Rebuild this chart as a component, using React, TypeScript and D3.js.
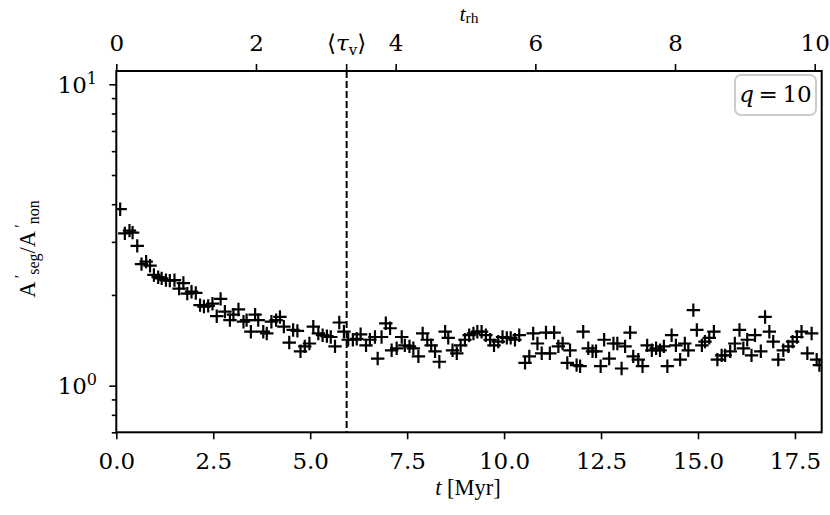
import React, { useRef, useEffect } from 'react';
import * as d3 from 'd3';

// time in Myr and segregated / non-segregated ratio
const tMyr = [
  0.1, 0.22, 0.34, 0.42, 0.54, 0.65, 0.77, 0.87, 0.97, 1.08, 1.17, 1.28, 1.38, 1.5, 1.62, 1.73, 1.83, 1.94,
  2.05, 2.16, 2.26, 2.37, 2.48, 2.59, 2.69, 2.8, 2.93, 3.02, 3.15, 3.28, 3.36, 3.47, 3.58, 3.66, 3.79, 3.88,
  4.0, 4.12, 4.22, 4.32, 4.46, 4.56, 4.67, 4.75, 4.86, 4.98, 5.08, 5.21, 5.32, 5.43, 5.53, 5.64, 5.75, 5.87,
  5.98, 6.1, 6.2, 6.3, 6.44, 6.54, 6.67, 6.74, 6.84, 6.95, 7.06, 7.1, 7.23, 7.36, 7.44, 7.56, 7.66, 7.79,
  7.9, 8.02, 8.12, 8.22, 8.33, 8.48, 8.56, 8.67, 8.78, 8.88, 8.99, 9.1, 9.21, 9.31, 9.42, 9.53, 9.64, 9.74,
  9.85, 9.96, 10.07, 10.17, 10.28, 10.39, 10.54, 10.65, 10.75, 10.86, 10.97, 11.08, 11.18, 11.29, 11.4,
  11.51, 11.63, 11.7, 11.87, 11.96, 12.04, 12.17, 12.28, 12.37, 12.49, 12.58, 12.71, 12.82, 12.92, 13.03,
  13.12, 13.25, 13.33, 13.46, 13.57, 13.69, 13.81, 13.92, 14.02, 14.12, 14.21, 14.32, 14.43, 14.54, 14.66,
  14.75, 14.88, 14.97, 15.1, 15.18, 15.29, 15.41, 15.5, 15.61, 15.7, 15.83, 15.95, 16.07, 16.17, 16.27,
  16.38, 16.47, 16.62, 16.73, 16.84, 16.94, 17.07, 17.2, 17.33, 17.44, 17.55, 17.67, 17.82, 17.93, 18.06,
  18.13,
];
const ratio = [
  3.85, 3.2, 3.27, 3.22, 2.91, 2.53, 2.58, 2.5, 2.33, 2.29, 2.27, 2.24, 2.23, 2.24, 2.1, 2.19, 2.02, 2.05,
  2.03, 1.85, 1.83, 1.84, 1.87, 1.7, 1.94, 1.76, 1.65, 1.72, 1.79, 1.63, 1.65, 1.51, 1.72, 1.65, 1.51, 1.49,
  1.63, 1.65, 1.69, 1.57, 1.39, 1.53, 1.52, 1.3, 1.35, 1.38, 1.57, 1.49, 1.47, 1.46, 1.45, 1.35, 1.62, 1.51,
  1.42, 1.42, 1.43, 1.48, 1.36, 1.42, 1.45, 1.23, 1.45, 1.61, 1.55, 1.31, 1.33, 1.45, 1.36, 1.35, 1.33, 1.25,
  1.49, 1.42, 1.36, 1.3, 1.2, 1.51, 1.44, 1.31, 1.28, 1.36, 1.42, 1.47, 1.49, 1.51, 1.51, 1.47, 1.42, 1.36,
  1.4, 1.45, 1.44, 1.44, 1.42, 1.47, 1.19, 1.25, 1.49, 1.38, 1.28, 1.5, 1.28, 1.5, 1.35,
  1.38, 1.19, 1.31, 1.17, 1.16, 1.51, 1.33, 1.3, 1.3, 1.16, 1.42, 1.23, 1.38, 1.38, 1.14,
  1.35, 1.5, 1.25, 1.22, 1.16, 1.36, 1.31, 1.33, 1.31, 1.35, 1.16, 1.47, 1.36, 1.22, 1.38,
  1.31, 1.78, 1.53, 1.36, 1.4, 1.44, 1.51, 1.22, 1.26, 1.26, 1.3, 1.38, 1.53, 1.33, 1.42,
  1.26, 1.47, 1.3, 1.69, 1.51, 1.4, 1.22, 1.31, 1.35, 1.4, 1.45, 1.51, 1.28, 1.49, 1.22,
  1.17,
];

const bottomTicks = [0, 2.5, 5, 7.5, 10, 12.5, 15, 17.5];
const topTicks = [0, 2, 4, 6, 8, 10];
const yMajorTicks = [1, 10];
const yMinorTicks = [0.7, 0.8, 0.9, 2, 3, 4, 5, 6, 7, 8, 9];
const tauV = 5.94; // Myr, mean <tau_v>
const qValue = '10';

const W = 830;
const H = 515;
const font = '"DejaVu Serif", serif';
const labelFont = '"Liberation Serif", "Times New Roman", serif';

const App: React.FC = () => {
  const svgRef = useRef<SVGSVGElement | null>(null);

  useEffect(() => {
    document.body.style.margin = '0';
    if (!svgRef.current) return;
    const svg = d3.select(svgRef.current);
    svg.selectAll('*').remove();

    const left = 116.3, right = 821.7, top = 71, bottom = 432.3;

    const x = d3.scaleLinear().domain([0, 18.19]).range([left, right]);
    const xTop = d3.scaleLinear().domain([0, 10.1]).range([left, right]);
    const y = d3.scaleLog().domain([0.7, 11.07]).range([bottom, top]);

    svg.append('rect').attr('width', W).attr('height', H).attr('fill', '#fff');

    svg.append('clipPath').attr('id', 'plotclip')
      .append('rect')
      .attr('x', left).attr('y', top)
      .attr('width', right - left).attr('height', bottom - top);

    // bottom axis
    const gx = svg.append('g')
      .attr('transform', `translate(0,${bottom})`)
      .call(d3.axisBottom(x).tickValues(bottomTicks).tickSize(7).tickPadding(13)
        .tickFormat(d3.format('.1f') as any));
    // top axis (t_rh)
    const gxt = svg.append('g')
      .attr('transform', `translate(0,${top})`)
      .call(d3.axisTop(xTop).tickValues(topTicks).tickSize(7).tickPadding(13)
        .tickFormat(d3.format('d') as any));
    // y axis
    const gyMinor = svg.append('g')
      .attr('transform', `translate(${left},0)`)
      .call(d3.axisLeft(y).tickValues(yMinorTicks).tickSize(4.5).tickFormat(() => ''));
    const gy = svg.append('g')
      .attr('transform', `translate(${left},0)`)
      .call(d3.axisLeft(y).tickValues(yMajorTicks).tickSize(7).tickFormat(() => ''));

    [gx, gxt, gy, gyMinor].forEach(g => {
      g.select('.domain').remove();
      g.selectAll('line').attr('stroke', '#000').attr('stroke-width', 1.6);
      g.selectAll('text').attr('font-family', font).attr('font-size', 23).attr('fill', '#000');
    });

    // y tick labels 10^0, 10^1
    yMajorTicks.forEach(v => {
      const t = svg.append('text')
        .attr('x', 97).attr('y', y(v) + 8.5)
        .attr('text-anchor', 'end')
        .attr('font-family', font).attr('font-size', 23).attr('fill', '#000');
      t.append('tspan').text('10');
      t.append('tspan').attr('font-size', 16).attr('dy', -9).text(String(Math.round(Math.log10(v))));
    });

    // tau_v tick + label on top
    svg.append('line')
      .attr('x1', x(tauV)).attr('x2', x(tauV))
      .attr('y1', top).attr('y2', top - 7)
      .attr('stroke', '#000').attr('stroke-width', 1.6);
    const tl = svg.append('text')
      .attr('x', x(tauV)).attr('y', 51)
      .attr('text-anchor', 'middle')
      .attr('font-family', font).attr('font-size', 23).attr('fill', '#000');
    tl.append('tspan').text('\u27E8');
    tl.append('tspan').attr('font-style', 'italic').text('\u03C4');
    tl.append('tspan').attr('font-size', 15).attr('dy', 4).text('v');
    tl.append('tspan').attr('dy', -4).text('\u27E9');

    // dashed line at <tau_v>
    svg.append('line')
      .attr('x1', x(tauV)).attr('x2', x(tauV))
      .attr('y1', top).attr('y2', bottom)
      .attr('stroke', '#000').attr('stroke-width', 2)
      .attr('stroke-dasharray', '7,3');

    // data markers '+'
    const pts = tMyr.map((t, i) => ({ t, r: ratio[i] }));
    const half = 6.7;
    svg.append('g')
      .attr('clip-path', 'url(#plotclip)')
      .selectAll('path')
      .data(pts)
      .enter()
      .append('path')
      .attr('d', d => {
        const px = x(d.t), py = y(d.r);
        return `M${px - half},${py}H${px + half}M${px},${py - half}V${py + half}`;
      })
      .attr('stroke', '#000')
      .attr('stroke-width', 2.2)
      .attr('fill', 'none');

    // frame
    svg.append('rect')
      .attr('x', left).attr('y', top)
      .attr('width', right - left).attr('height', bottom - top)
      .attr('fill', 'none').attr('stroke', '#000').attr('stroke-width', 2);

    // legend box q = 10
    svg.append('rect')
      .attr('x', 735).attr('y', 75).attr('width', 81).attr('height', 40).attr('rx', 6)
      .attr('fill', '#fff').attr('stroke', '#cccccc').attr('stroke-width', 2);
    const ql = svg.append('text')
      .attr('x', 775.5).attr('y', 102)
      .attr('text-anchor', 'middle')
      .attr('font-family', font).attr('font-size', 23).attr('fill', '#000');
    ql.append('tspan').attr('font-style', 'italic').text('q');
    ql.append('tspan').text('\u2009=\u2009' + qValue);

    // axis labels
    const xl = svg.append('text')
      .attr('x', 468).attr('y', 495)
      .attr('text-anchor', 'middle')
      .attr('font-family', labelFont).attr('font-size', 22.5).attr('fill', '#000');
    xl.append('tspan').attr('font-style', 'italic').text('t');
    xl.append('tspan').text(' [Myr]');

    const trh = svg.append('text')
      .attr('x', 469).attr('y', 21)
      .attr('text-anchor', 'middle')
      .attr('font-family', labelFont).attr('font-size', 22).attr('fill', '#000');
    trh.append('tspan').attr('font-style', 'italic').text('t');
    trh.append('tspan').attr('font-size', 15.5).attr('dy', 2).text('rh');

    const yl = svg.append('text')
      .attr('transform', `translate(35,249) rotate(-90)`)
      .attr('text-anchor', 'middle')
      .attr('font-family', labelFont).attr('font-size', 22.5).attr('fill', '#000');
    yl.append('tspan').text('A');
    yl.append('tspan').attr('font-size', 16).attr('dy', -9).text('\u2009\u2032');
    yl.append('tspan').attr('font-size', 16).attr('dy', 13).text('seg');
    yl.append('tspan').attr('dy', -4).text('/A');
    yl.append('tspan').attr('font-size', 16).attr('dy', -9).text('\u2009\u2032');
    yl.append('tspan').attr('font-size', 16).attr('dy', 13).text('non');
  }, []);

  return <svg ref={svgRef} width={W} height={H} style={{ display: 'block' }} />;
};

export default App;
